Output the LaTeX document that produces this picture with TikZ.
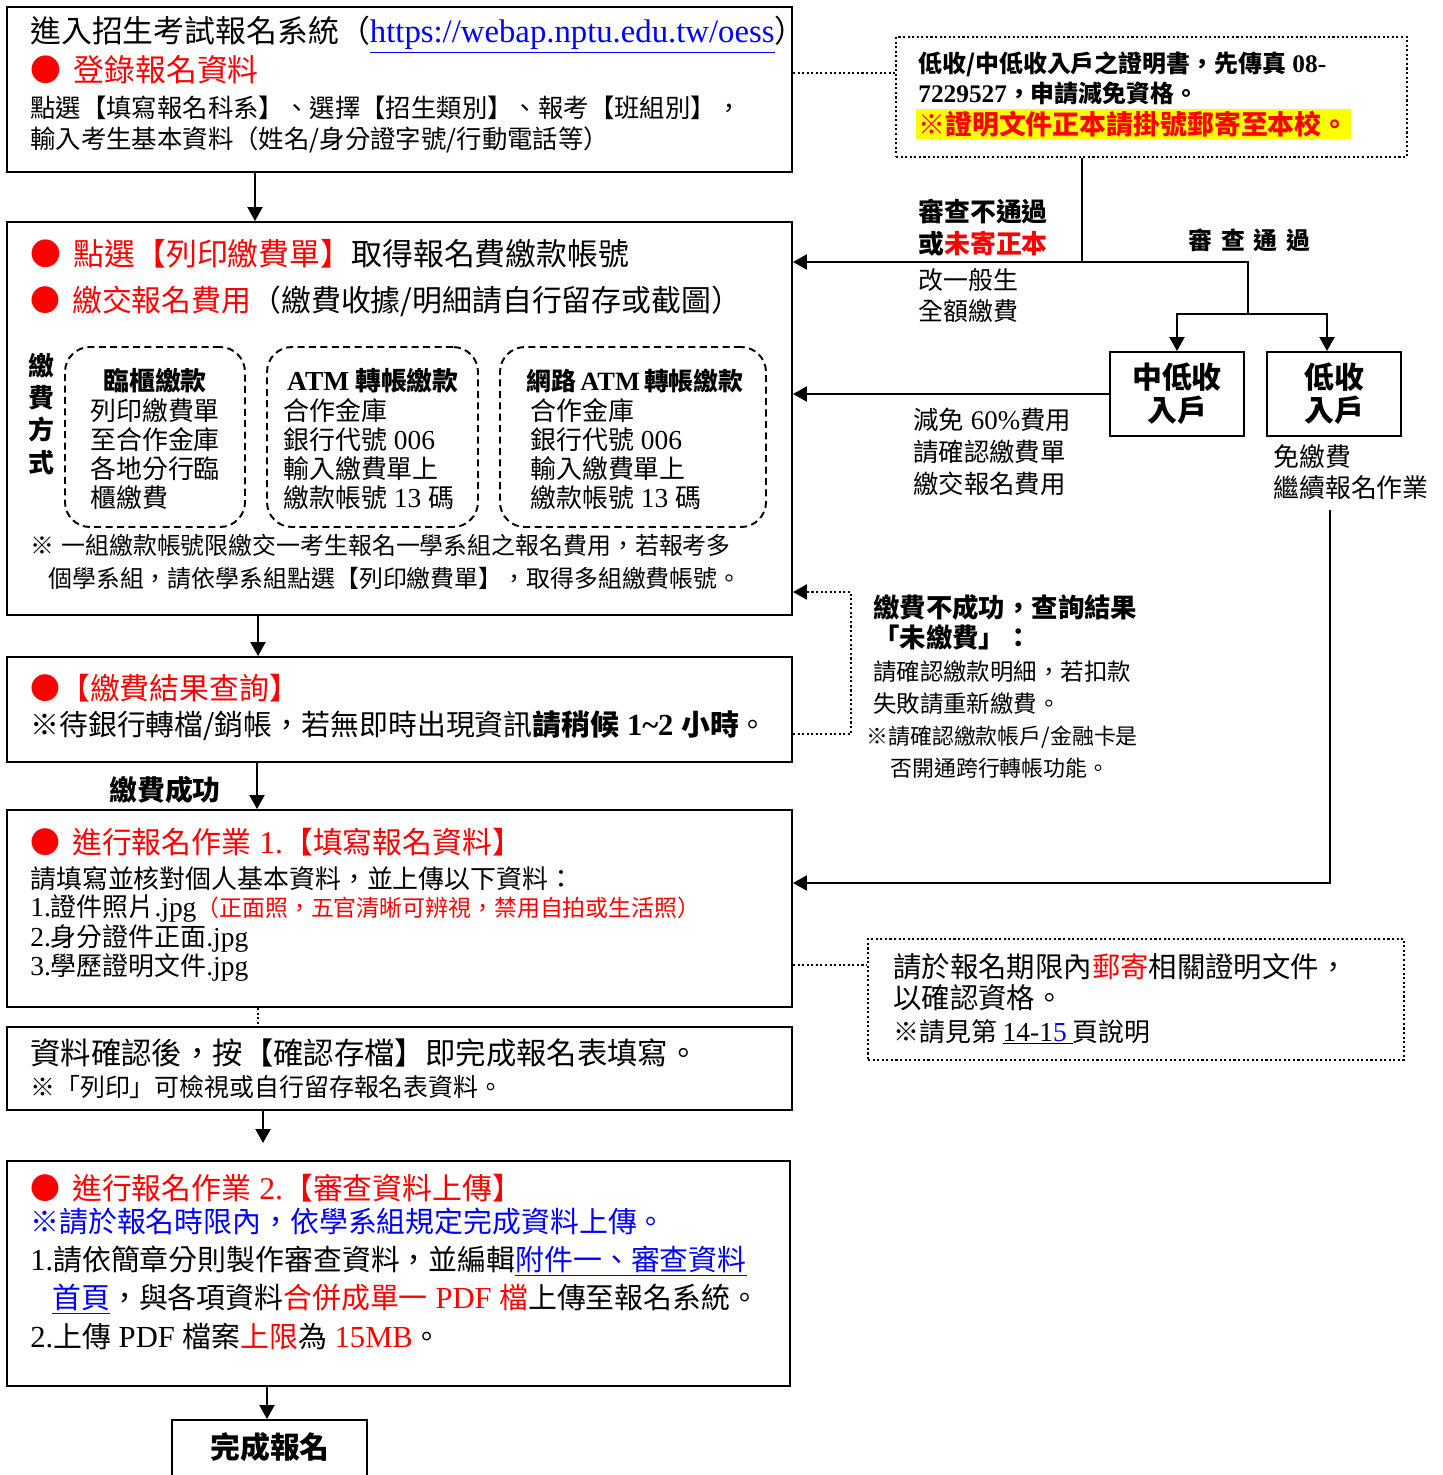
\documentclass[tikz,border=0pt]{standalone}
\usepackage{fontspec}
\setmainfont{Noto Sans CJK TC}
\newfontfamily\enfont[Scale=1.06]{Liberation Serif}
\usetikzlibrary{arrows.meta,fit}
\definecolor{linkblue}{RGB}{0,0,255}
\definecolor{markred}{RGB}{255,0,0}
\definecolor{markyellow}{RGB}{255,255,0}
% font size given in pixels of the reference
\newcommand{\fs}[2][1.2]{\fontsize{\fpeval{#2*0.5669}pt}{\fpeval{#2*0.5669*#1}pt}\selectfont}
\newcommand{\en}[1]{{\enfont #1}}
\newcommand{\rd}[1]{{\color{markred}#1}}
\newcommand{\bl}[1]{{\color{linkblue}#1}}
\begin{document}
\begin{tikzpicture}
[x=0.02cm, y=-0.02cm,
  boxDecorate/.style={draw,line width=1.1pt,inner sep=0pt},
  noteDecorate/.style={draw,line width=1.3pt,dash pattern=on 1.2pt off 1.4pt,inner sep=0pt},
  wayDecorate/.style={draw,line width=1.1pt,dash pattern=on 4pt off 2.5pt,rounded corners=0.5cm,inner sep=0pt},
  lineDecorate/.style={line width=1.2pt,-{Triangle[length=0.28cm,width=0.3cm]}},
  plainDecorate/.style={line width=1.2pt},
  dotDecorate/.style={line width=1.3pt,dash pattern=on 1.2pt off 1.4pt},
  textDecorate/.style={anchor=west,inner sep=0pt}]
\useasboundingbox (0,0) rectangle (1443,1475);
%% boxes
\foreach \nodename/\xa/\ya/\xb/\yb in {
  login/7/7/792/172, payslip/7/222/792/615, payquery/7/657/792/762,
  formfill/7/810/792/1007, formsave/7/1027/792/1110, upload/7/1161/790/1386,
  done/172/1420/367/1485, midinc/1110/352/1244/436, lowinc/1267/352/1401/436}
{
  \node[boxDecorate, fit={(\xa,\ya) (\xb,\yb)}] (\nodename) {};
}
\foreach \nodename/\xa/\xb in {wayA/65/245, wayB/267/478, wayC/500/766}
{
  \node[wayDecorate, fit={(\xa,347) (\xb,527)}] (\nodename) {};
}
\node[noteDecorate, fit={(896,37) (1407,157)}] (proof) {};
\node[noteDecorate, fit={(868,939) (1404,1060)}] (mail) {};
%% texts in the left boxes
\node[textDecorate, font=\fs{31}] (login1) at (30,35) {進入招生考試報名系統（\bl{\underline{\en{https://webap.nptu.edu.tw/oess}}}）};
\node[textDecorate, font=\fs{31}] (login2) at (30,70) {\rd{●\hspace{0.4em}登錄報名資料}};
\node[textDecorate, font=\fs{25.5}] (login3) at (30,108) {點選【填寫報名科系】、選擇【招生類別】、報考【班組別】，};
\node[textDecorate, font=\fs{25.5}] (login4) at (30,140) {輸入考生基本資料（姓名/身分證字號/行動電話等）};
\node[textDecorate, font=\fs{31}] (slip1) at (30,254) {\rd{●\hspace{0.4em}點選【列印繳費單】}取得報名費繳款帳號};
\node[textDecorate, font=\fs{30}] (slip2) at (30,301) {\rd{●\hspace{0.4em}繳交報名費用}（繳費收據/明細請自行留存或截圖）};
\node[font={\fs[1.24]{26}\bfseries}, align=center, inner sep=0pt] (wayLabel) at (41,414) {繳\\費\\方\\式};
\node[font=\fs{26}\bfseries, inner sep=0pt] (wayAt) at (155,381) {臨櫃繳款};
\node[font=\fs{26}\bfseries, inner sep=0pt] (wayBt) at (373,381) {\en{ATM} 轉帳繳款};
\node[font=\fs{25}\bfseries, inner sep=0pt] (wayCt) at (635,381) {網路\,\en{ATM}\,轉帳繳款};
\foreach \y/\txtA/\txtB in {411/列印繳費單/合作金庫, 440/至合作金庫/銀行代號\en{ 006},
  469/各地分行臨/輸入繳費單上, 498/櫃繳費/繳款帳號\en{ 13 }碼}
{
  \node[textDecorate, font=\fs{26}] (wa\y) at (90,\y) {\txtA};
  \node[textDecorate, font=\fs{26}] (wb\y) at (283,\y) {\txtB};
  \node[textDecorate, font=\fs{26}] (wc\y) at (530,\y) {\txtB};
}
\node[textDecorate, font=\fs{24}] (slip3) at (30,545) {※\hspace{0.3em}一組繳款帳號限繳交一考生報名一學系組之報名費用，若報考多};
\node[textDecorate, font=\fs{24}] (slip4) at (48,578) {個學系組，請依學系組點選【列印繳費單】，取得多組繳費帳號。};
\node[textDecorate, font=\fs{30}] (query1) at (30,688) {\rd{●【繳費結果查詢】}};
\node[textDecorate, font=\fs{29}] (query2) at (30,726) {※待銀行轉檔/銷帳，若無即時出現資訊{\bfseries 請稍候\en{ 1\textasciitilde2 }小時}。};
\node[font=\fs{28}\bfseries, inner sep=0pt] (paidOk) at (165,790) {繳費成功};
\node[textDecorate, font=\fs{30}] (fill1) at (30,842) {\rd{●\hspace{0.4em}進行報名作業\en{ 1.}【填寫報名資料】}};
\node[textDecorate, font=\fs{26}] (fill2) at (30,879) {請填寫並核對個人基本資料，並上傳以下資料：};
\node[textDecorate, font=\fs{26}] (fill3) at (30,908) {\en{1.}證件照片\en{.jpg}{\fs{23}\rd{（正面照，五官清晰可辨視，禁用自拍或生活照）}}};
\node[textDecorate, font=\fs{26}] (fill4) at (30,938) {\en{2.}身分證件正面\en{.jpg}};
\node[textDecorate, font=\fs{26}] (fill5) at (30,967) {\en{3.}學歷證明文件\en{.jpg}};
\node[textDecorate, font=\fs{30.5}] (save1) at (30,1053) {資料確認後，按【確認存檔】即完成報名表填寫。};
\node[textDecorate, font=\fs{25}] (save2) at (30,1087) {※「列印」可檢視或自行留存報名表資料。};
\node[textDecorate, font=\fs{30}] (up1) at (30,1188) {\rd{●\hspace{0.4em}進行報名作業\en{ 2.}【審查資料上傳】}};
\node[textDecorate, font=\fs{29}] (up2) at (30,1222) {\bl{※請於報名時限內，依學系組規定完成資料上傳。}};
\node[textDecorate, font=\fs{29}] (up3) at (30,1261) {\en{1.}請依簡章分則製作審查資料，並編輯\bl{\underline{附件一、審查資料}}};
\node[textDecorate, font=\fs{29}] (up4) at (52,1299) {\bl{\underline{首頁}}，與各項資料\rd{合併成單一\en{ PDF }檔}上傳至報名系統。};
\node[textDecorate, font=\fs{29}] (up5) at (30,1337) {\en{2.}上傳\en{ PDF }檔案\rd{上限}為\rd{\en{ 15MB}}。};
\node[font=\fs{30}\bfseries, inner sep=0pt] (doneText) at (270,1447) {完成報名};
%% texts on the right
\node[textDecorate, font=\fs{24}\bfseries] (proof1) at (918,64) {低收/中低收入戶之證明書，先傳真\en{ 08-}};
\node[textDecorate, font=\fs{24}\bfseries] (proof2) at (918,93) {\en{7229527}，申請減免資格。};
\node[textDecorate, font=\fs{27}\bfseries, fill=markyellow, inner xsep=0.04cm, inner ysep=0.03cm] (proof3) at (916,124) {\rd{※證明文件正本請掛號郵寄至本校。}\hspace{0.6em}};
\node[textDecorate, font=\fs{26}\bfseries] (reject1) at (918,212) {審查不通過};
\node[textDecorate, font=\fs{26}\bfseries] (reject2) at (918,244) {或\rd{未寄正本}};
\node[textDecorate, font=\fs{25}] (reject3) at (918,280) {改一般生};
\node[textDecorate, font=\fs{25}] (reject4) at (918,311) {全額繳費};
\node[textDecorate, font=\fs{24}\bfseries] (pass) at (1188,240) {審\hspace{5pt}查\hspace{5pt}通\hspace{5pt}過};
\node[font={\fs[1.1]{30}\bfseries}, align=center, inner sep=0pt] (midText) at (midinc) {中低收\\入戶};
\node[font={\fs[1.1]{30}\bfseries}, align=center, inner sep=0pt] (lowText) at (lowinc) {低收\\入戶};
\node[textDecorate, font=\fs{25.5}] (mid1) at (913,420) {減免\en{ 60\%}費用};
\node[textDecorate, font=\fs{25.5}] (mid2) at (913,452) {請確認繳費單};
\node[textDecorate, font=\fs{25.5}] (mid3) at (913,484) {繳交報名費用};
\node[textDecorate, font=\fs{26}] (low1) at (1273,457) {免繳費};
\node[textDecorate, font=\fs{26}] (low2) at (1273,488) {繼續報名作業};
\node[textDecorate, font=\fs{26.5}\bfseries] (fail1) at (873,607) {繳費不成功，查詢結果};
\node[textDecorate, font=\fs{26.5}\bfseries] (fail2) at (873,638) {「未繳費」：};
\node[textDecorate, font=\fs{23.5}] (fail3) at (873,672) {請確認繳款明細，若扣款};
\node[textDecorate, font=\fs{23.5}] (fail4) at (873,704) {失敗請重新繳費。};
\node[textDecorate, font=\fs{22}] (fail5) at (866,737) {※請確認繳款帳戶/金融卡是};
\node[textDecorate, font=\fs{22}] (fail6) at (890,768) {否開通跨行轉帳功能。};
\node[textDecorate, font=\fs{28.5}] (mail1) at (893,967) {請於報名期限內\rd{郵寄}相關證明文件，};
\node[textDecorate, font=\fs{28.5}] (mail2) at (893,998) {以確認資格。};
\node[textDecorate, font=\fs{26}] (mail3) at (893,1032) {※請見第 \underline{\en{14-1}\bl{\en{5}}\ }頁說明};
%% turning points
\coordinate (split) at (1082,262);
\coordinate (passTop) at (1248,262);
\coordinate (passFork) at (1248,314);
\coordinate (lowDrop) at (1327,314);
\coordinate (freeTop) at (1330,510);
\coordinate (freeTurn) at (1330,883);
\coordinate (failTurnA) at (851,734);
\coordinate (failTurnB) at (851,592);
\coordinate (saveEnd) at (263,1143);
%% edges or lines
\foreach \startnode/\endnode/\x in {login/payslip/255, payslip/payquery/258, payquery/formfill/257, upload/done/267}
{
  \draw[lineDecorate] (\startnode.south -| \x,0) -- (\endnode.north -| \x,0);
}
\draw[lineDecorate] (formsave.south -| saveEnd) -- (saveEnd);
\draw[dotDecorate] (formfill.south -| 258,0) -- (formsave.north -| 258,0);
\draw[dotDecorate] (login.east |- 0,73) -- (proof.west |- 0,73);
\draw[dotDecorate] (formfill.east |- 0,965) -- (mail.west |- 0,965);
\draw[dotDecorate, -{Triangle[length=0.28cm,width=0.3cm]}] (payquery.east |- failTurnA) -- (failTurnA) -- (failTurnB) -- (payslip.east |- failTurnB);
\draw[plainDecorate] (proof.south -| split) -- (split) -- (passTop) -- (passFork);
\draw[lineDecorate] (split) -- (payslip.east |- split);
\draw[lineDecorate] (passFork) -| (midinc.north);
\draw[lineDecorate] (passFork) -- (lowDrop) -- (lowinc.north -| lowDrop);
\draw[lineDecorate] (midinc.west) -- (payslip.east |- midinc.west);
\draw[lineDecorate] (freeTop) -- (freeTurn) -- (formfill.east |- freeTurn);
\end{tikzpicture}
\end{document}
